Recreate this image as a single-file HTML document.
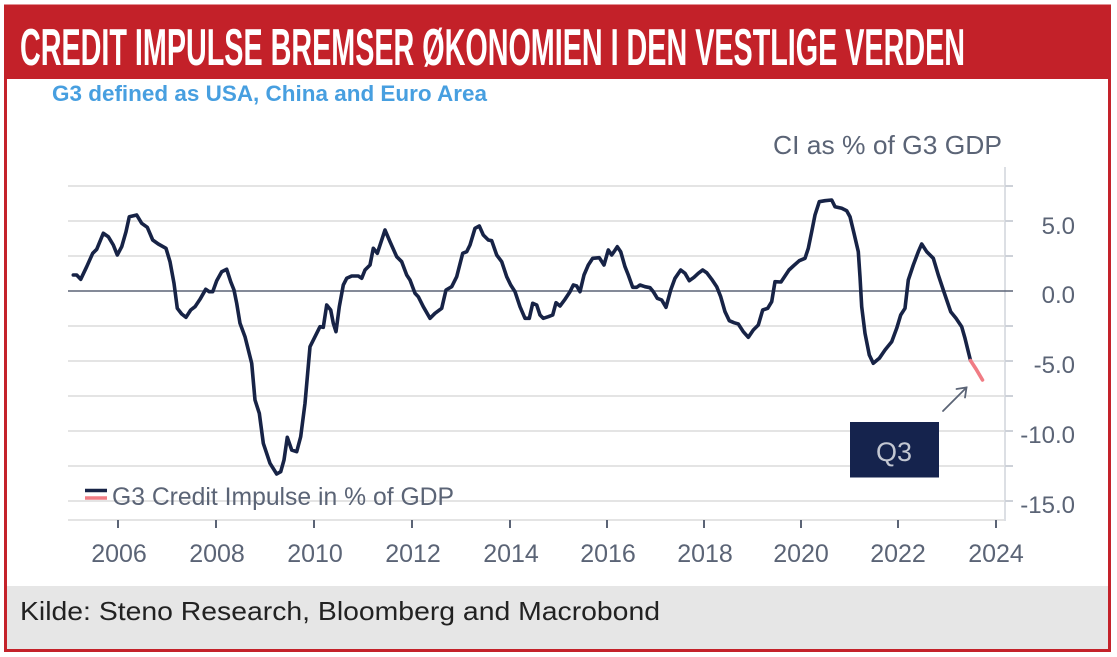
<!DOCTYPE html>
<html>
<head>
<meta charset="utf-8">
<style>
html,body{margin:0;padding:0;background:#fff;}
body{width:1117px;height:657px;overflow:hidden;}
svg{display:block;}
</style>
</head>
<body>
<svg width="1117" height="657" viewBox="0 0 1117 657" xmlns="http://www.w3.org/2000/svg">
  <rect x="0" y="0" width="1117" height="657" fill="#ffffff"/>
  <!-- frame -->
  <rect x="5.5" y="6" width="1104" height="644.5" fill="#ffffff" stroke="#c4222a" stroke-width="3"/>
  <!-- title band -->
  <rect x="4" y="5" width="1107" height="74" fill="#c32129"/>
  <text x="20" y="65" font-family="'Liberation Sans', 'DejaVu Sans', sans-serif" font-weight="bold" font-size="52" fill="#ffffff" textLength="945" lengthAdjust="spacingAndGlyphs">CREDIT IMPULSE BREMSER ØKONOMIEN I DEN VESTLIGE VERDEN</text>
  <!-- subtitle -->
  <text x="52" y="101" font-family="'Liberation Sans', sans-serif" font-weight="bold" font-size="22" fill="#479fe0" textLength="435" lengthAdjust="spacingAndGlyphs">G3 defined as USA, China and Euro Area</text>
  <!-- axis title -->
  <text x="773" y="154" font-family="'Liberation Sans', sans-serif" font-size="26" fill="#5b6476" textLength="229" lengthAdjust="spacingAndGlyphs">CI as % of G3 GDP</text>

  <!-- gridlines -->
  <g stroke="#e4e4e4" stroke-width="2">
    <line x1="68" y1="186" x2="1005" y2="186"/>
    <line x1="68" y1="221" x2="1005" y2="221"/>
    <line x1="68" y1="256" x2="1005" y2="256"/>
    <line x1="68" y1="326" x2="1005" y2="326"/>
    <line x1="68" y1="361" x2="1005" y2="361"/>
    <line x1="68" y1="396" x2="1005" y2="396"/>
    <line x1="68" y1="431" x2="1005" y2="431"/>
    <line x1="68" y1="466" x2="1005" y2="466"/>
    <line x1="68" y1="501" x2="1005" y2="501"/>
    <line x1="68" y1="520" x2="1005" y2="520"/>
  </g>
  <!-- right axis line and ticks -->
  <line x1="1005" y1="167" x2="1005" y2="521" stroke="#dcdfe4" stroke-width="2"/>
  <g stroke="#cdd1d8" stroke-width="2">
    <line x1="1005" y1="186" x2="1013" y2="186"/>
    <line x1="1005" y1="221" x2="1013" y2="221"/>
    <line x1="1005" y1="256" x2="1013" y2="256"/>
    <line x1="1005" y1="326" x2="1013" y2="326"/>
    <line x1="1005" y1="361" x2="1013" y2="361"/>
    <line x1="1005" y1="396" x2="1013" y2="396"/>
    <line x1="1005" y1="431" x2="1013" y2="431"/>
    <line x1="1005" y1="466" x2="1013" y2="466"/>
    <line x1="1005" y1="501" x2="1013" y2="501"/>
  </g>
  <!-- zero line -->
  <line x1="68" y1="291" x2="1013" y2="291" stroke="#5b6476" stroke-width="1.6"/>

  <!-- y labels -->
  <g font-family="'Liberation Sans', sans-serif" font-size="24" fill="#5b6476" text-anchor="end">
    <text x="1075" y="234">5.0</text>
    <text x="1075" y="303">0.0</text>
    <text x="1075" y="373">-5.0</text>
    <text x="1075" y="443">-10.0</text>
    <text x="1075" y="513">-15.0</text>
  </g>

  <!-- x ticks -->
  <g stroke="#5b6476" stroke-width="2">
    <line x1="118" y1="520" x2="118" y2="528"/>
    <line x1="216" y1="520" x2="216" y2="528"/>
    <line x1="314" y1="520" x2="314" y2="528"/>
    <line x1="412" y1="520" x2="412" y2="528"/>
    <line x1="510" y1="520" x2="510" y2="528"/>
    <line x1="607" y1="520" x2="607" y2="528"/>
    <line x1="704" y1="520" x2="704" y2="528"/>
    <line x1="801" y1="520" x2="801" y2="528"/>
    <line x1="898" y1="520" x2="898" y2="528"/>
    <line x1="996" y1="520" x2="996" y2="528"/>
  </g>
  <g font-family="'Liberation Sans', sans-serif" font-size="25" fill="#5b6476" text-anchor="middle">
    <text x="119" y="562">2006</text>
    <text x="217" y="562">2008</text>
    <text x="315" y="562">2010</text>
    <text x="413" y="562">2012</text>
    <text x="511" y="562">2014</text>
    <text x="608" y="562">2016</text>
    <text x="705" y="562">2018</text>
    <text x="801" y="562">2020</text>
    <text x="898" y="562">2022</text>
    <text x="996" y="562">2024</text>
  </g>

  <!-- main series -->
  <polyline fill="none" stroke="#172346" stroke-width="3.6" stroke-linejoin="round" stroke-linecap="round" points="
73.3,275 76.7,275 80.7,279.3 86.7,266.7 92.7,253.3 96.7,249.3 103.3,233.3 108.3,236.7 113.3,245 117.3,255 121.7,246.7 126,231.7 129.3,216.7 136.7,215 141.7,223.3 147.3,227.3 152.7,240 158.3,244 166,248.3 170,261.7 174,283.3 177.3,308.3 181.7,314 186,317.3 190.7,310 195,306.7 200,299.3 205.7,289.3 209.3,291.7 212.7,291.7 216.7,280.7 221.7,271.7 226.7,269.3 230.7,281.7 234,290 236.7,303.3 240,323.3 245,336.7 251.7,363.3 255,400 259.3,413.3 263.3,443.3 270,463.3 276.7,474 280.7,471.7 284,460 287.3,437.3 291.7,450 296.7,451.7 300.7,436.7 305,403.3 310,346.7
315,336.7 320,326.7 323.3,327.3 326.7,305 330.7,310 333.3,323.3 336,331.7 339.3,306.7 343.3,285 346.7,278.3 351.7,276 358.3,276 361.7,278.3 365,270 370,265 373.3,248.3 377.3,253.3 385,230 390,241.7 396.7,256.7 401.7,261.7 406.7,275 410,280 415,293.3 418.3,296.7 423.3,306.7 430,318.3 435,313.3 441.7,308.3 446,290 451.7,286.7 456.7,276.7 462.7,253.3 466.7,251.7 470,245 475,228.3 479.3,226 483.3,235 488.3,240 491.7,240.7 496.7,255 501.7,261.7 506.7,276.7 510.7,285 515,291.7 520,306.7 525,318.3 529.3,318.3 532.7,303.3 536.7,305 540,315
543.3,318.3 548.3,316.7 552.7,315 556,302.7 560,306 565,299.3 570,291.7 573.3,285 576.7,286 580,291.7 584,275 588.3,265 592.7,258.3 599.3,257.7 604,265 608.3,250 611.7,255 614,251.7 617.3,246.7 620.7,251.7 625,266.7 628.3,275 632.7,287.3 636.7,287.3 640,285 645,286.7 650,287.7 653.3,291.7 657.3,298.3 661.7,300 666,307.3 670.7,290 675,278.3 680.7,270 685,273.3 689.3,280.7 694,277.3 698.3,273.3 702.7,270 706.7,272.7 711.7,279.3 716.7,286.7 720.7,296.7 725,311.7 729.3,320.7 734,322.7 738.3,324 743.3,331.7 748.3,337.3 753.3,330 758.3,325 762.7,310 767.7,308.3 771.7,301.7 775,281.7 781,282 785,276 789,270 793.3,266 799.3,260.7 805,258.3 808.3,248.3 811.7,231.7 815,215 819.3,201.7 825,200.7 831.7,200 835,206.7 841.7,208.3 846.7,210.7 850,216.7 854,233.3 858.3,251.7 860,276.7 861.7,306.7 865,333.3 869.3,355 873.3,363.3 879.3,358.3 885,350 891.7,341.7 896.7,328.3 900.7,315 905,308.3 908.3,280 913.3,265 918.3,251.7 921.7,244 926.7,251.7 933.3,258.3 938.3,275 943.3,290 946.7,300 950.7,311.7 956,318.3 961.7,326.7 965,338.3 968.3,351.7 970.5,360.5"/>
  <!-- projected pink segment -->
  <polyline fill="none" stroke="#f07c84" stroke-width="3.6" stroke-linecap="round" points="970.5,360.5 976,369 982.5,380"/>

  <!-- arrow -->
  <g stroke="#5b6476" stroke-width="1.8" fill="none" stroke-linecap="round">
    <line x1="943" y1="411" x2="966.5" y2="387.5"/>
    <polyline points="956.5,389 966.5,387.5 965,397.5"/>
  </g>

  <!-- Q3 box -->
  <rect x="850" y="422" width="89" height="55.5" fill="#15234d"/>
  <text x="894" y="461" font-family="'Liberation Sans', sans-serif" font-size="27" fill="#c3c7d2" text-anchor="middle">Q3</text>

  <!-- legend -->
  <line x1="85" y1="490.5" x2="107" y2="490.5" stroke="#172346" stroke-width="3.5"/>
  <line x1="85" y1="498" x2="107" y2="498" stroke="#f07c84" stroke-width="3.5"/>
  <text x="112" y="505" font-family="'Liberation Sans', sans-serif" font-size="25" fill="#5b6476" textLength="342" lengthAdjust="spacingAndGlyphs">G3 Credit Impulse in % of GDP</text>

  <!-- footer -->
  <rect x="7" y="586" width="1101" height="63" fill="#e6e6e6"/>
  <text x="20" y="620" font-family="'Liberation Sans', sans-serif" font-size="26" fill="#222222" textLength="640" lengthAdjust="spacingAndGlyphs">Kilde: Steno Research, Bloomberg and Macrobond</text>
  <!-- re-stroke frame edges over footer -->
  <line x1="5.5" y1="79" x2="5.5" y2="652" stroke="#c4222a" stroke-width="3"/>
  <line x1="1109.5" y1="79" x2="1109.5" y2="652" stroke="#c4222a" stroke-width="3"/>
  <line x1="4" y1="650.5" x2="1111" y2="650.5" stroke="#c4222a" stroke-width="3"/>
</svg>
</body>
</html>
